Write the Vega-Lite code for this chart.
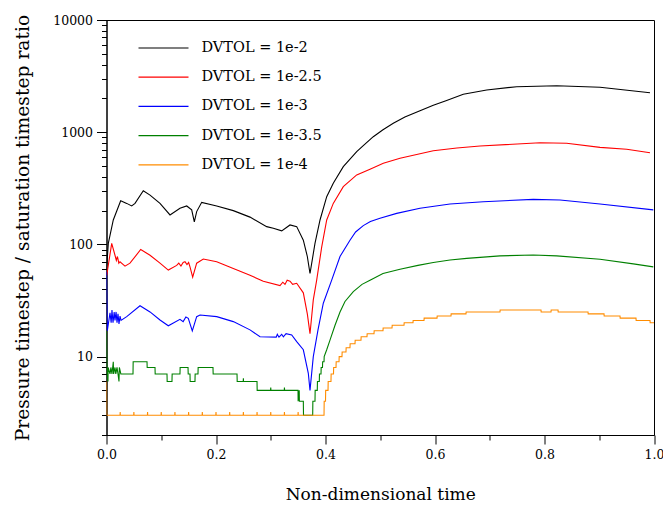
{
  "$schema": "https://vega.github.io/schema/vega-lite/v6.json",
  "width": 547.5,
  "height": 415,
  "autosize": "none",
  "padding": {"left": 106.5, "top": 20, "right": 9, "bottom": 72},
  "config": {
    "view": {"stroke": "#000", "strokeWidth": 1},
    "font": "DejaVu Serif",
    "axis": {"grid": false, "domainColor": "#000", "tickColor": "#000", "labelColor": "#000", "titleColor": "#000", "titleFontWeight": "normal", "labelFont": "DejaVu Serif", "titleFont": "DejaVu Serif"}
  },
  "data": {"values": [
    {"s":"1e-2","t":0,"v":59},{"s":"1e-2","t":0.0033,"v":102},{"s":"1e-2","t":0.0124,"v":165},{"s":"1e-2","t":0.0259,"v":245},{"s":"1e-2","t":0.0369,"v":232},{"s":"1e-2","t":0.046,"v":220},{"s":"1e-2","t":0.0521,"v":232},{"s":"1e-2","t":0.0672,"v":301},{"s":"1e-2","t":0.0795,"v":275},{"s":"1e-2","t":0.0977,"v":232},{"s":"1e-2","t":0.116,"v":183},{"s":"1e-2","t":0.1342,"v":210},{"s":"1e-2","t":0.1465,"v":220},{"s":"1e-2","t":0.1556,"v":203},{"s":"1e-2","t":0.1604,"v":159},{"s":"1e-2","t":0.1647,"v":196},{"s":"1e-2","t":0.1739,"v":237},{"s":"1e-2","t":0.2013,"v":220},{"s":"1e-2","t":0.2316,"v":200},{"s":"1e-2","t":0.2621,"v":175},{"s":"1e-2","t":0.2926,"v":144},{"s":"1e-2","t":0.3047,"v":139},{"s":"1e-2","t":0.32,"v":132},{"s":"1e-2","t":0.3352,"v":149},{"s":"1e-2","t":0.3474,"v":144},{"s":"1e-2","t":0.3595,"v":109},{"s":"1e-2","t":0.3668,"v":78},{"s":"1e-2","t":0.3717,"v":55},{"s":"1e-2","t":0.3808,"v":102},{"s":"1e-2","t":0.39,"v":165},{"s":"1e-2","t":0.4022,"v":266},{"s":"1e-2","t":0.4142,"v":351},{"s":"1e-2","t":0.4325,"v":493},{"s":"1e-2","t":0.457,"v":670},{"s":"1e-2","t":0.47,"v":766},{"s":"1e-2","t":0.4873,"v":912},{"s":"1e-2","t":0.505,"v":1052},{"s":"1e-2","t":0.5238,"v":1200},{"s":"1e-2","t":0.545,"v":1365},{"s":"1e-2","t":0.5726,"v":1555},{"s":"1e-2","t":0.5969,"v":1738},{"s":"1e-2","t":0.62,"v":1905},{"s":"1e-2","t":0.6517,"v":2177},{"s":"1e-2","t":0.6944,"v":2377},{"s":"1e-2","t":0.7492,"v":2545},{"s":"1e-2","t":0.8223,"v":2597},{"s":"1e-2","t":0.9014,"v":2512},{"s":"1e-2","t":0.9927,"v":2249},

    {"s":"1e-2.5","t":0.0004,"v":53},{"s":"1e-2.5","t":0.0095,"v":102},{"s":"1e-2.5","t":0.0155,"v":80},{"s":"1e-2.5","t":0.018,"v":72},{"s":"1e-2.5","t":0.02,"v":78},{"s":"1e-2.5","t":0.0225,"v":68},{"s":"1e-2.5","t":0.0247,"v":70},{"s":"1e-2.5","t":0.0338,"v":64},{"s":"1e-2.5","t":0.0429,"v":68},{"s":"1e-2.5","t":0.0625,"v":90},{"s":"1e-2.5","t":0.0795,"v":80},{"s":"1e-2.5","t":0.0977,"v":68},{"s":"1e-2.5","t":0.1129,"v":59},{"s":"1e-2.5","t":0.1282,"v":65},{"s":"1e-2.5","t":0.132,"v":68},{"s":"1e-2.5","t":0.136,"v":64},{"s":"1e-2.5","t":0.14,"v":69},{"s":"1e-2.5","t":0.1434,"v":70},{"s":"1e-2.5","t":0.147,"v":66},{"s":"1e-2.5","t":0.15,"v":69},{"s":"1e-2.5","t":0.1525,"v":63},{"s":"1e-2.5","t":0.1574,"v":51},{"s":"1e-2.5","t":0.1647,"v":68},{"s":"1e-2.5","t":0.1768,"v":74},{"s":"1e-2.5","t":0.2013,"v":70},{"s":"1e-2.5","t":0.2316,"v":61},{"s":"1e-2.5","t":0.2621,"v":53},{"s":"1e-2.5","t":0.2864,"v":47},{"s":"1e-2.5","t":0.3169,"v":43},{"s":"1e-2.5","t":0.322,"v":46},{"s":"1e-2.5","t":0.326,"v":44},{"s":"1e-2.5","t":0.33,"v":48},{"s":"1e-2.5","t":0.3352,"v":47},{"s":"1e-2.5","t":0.34,"v":44},{"s":"1e-2.5","t":0.3474,"v":45},{"s":"1e-2.5","t":0.3595,"v":37},{"s":"1e-2.5","t":0.3668,"v":24},{"s":"1e-2.5","t":0.3717,"v":16},{"s":"1e-2.5","t":0.3777,"v":32},{"s":"1e-2.5","t":0.3839,"v":48},{"s":"1e-2.5","t":0.3931,"v":95},{"s":"1e-2.5","t":0.4022,"v":165},{"s":"1e-2.5","t":0.4142,"v":232},{"s":"1e-2.5","t":0.4325,"v":327},{"s":"1e-2.5","t":0.457,"v":416},{"s":"1e-2.5","t":0.4813,"v":467},{"s":"1e-2.5","t":0.5056,"v":528},{"s":"1e-2.5","t":0.5361,"v":585},{"s":"1e-2.5","t":0.5969,"v":684},{"s":"1e-2.5","t":0.64,"v":724},{"s":"1e-2.5","t":0.6822,"v":753},{"s":"1e-2.5","t":0.7918,"v":806},{"s":"1e-2.5","t":0.8405,"v":796},{"s":"1e-2.5","t":0.9014,"v":733},{"s":"1e-2.5","t":0.9501,"v":704},{"s":"1e-2.5","t":0.9927,"v":656},

    {"s":"1e-3","t":0,"v":57},{"s":"1e-3","t":0.0015,"v":17},{"s":"1e-3","t":0.0064,"v":24.5},{"s":"1e-3","t":0.0085,"v":20},{"s":"1e-3","t":0.01,"v":26},{"s":"1e-3","t":0.0119,"v":20},{"s":"1e-3","t":0.014,"v":25},{"s":"1e-3","t":0.0155,"v":21},{"s":"1e-3","t":0.0175,"v":25},{"s":"1e-3","t":0.0192,"v":20},{"s":"1e-3","t":0.021,"v":24},{"s":"1e-3","t":0.0228,"v":19.5},{"s":"1e-3","t":0.0247,"v":23},{"s":"1e-3","t":0.0265,"v":21},{"s":"1e-3","t":0.0369,"v":22.7},{"s":"1e-3","t":0.0612,"v":28.4},{"s":"1e-3","t":0.0795,"v":25},{"s":"1e-3","t":0.0977,"v":21.2},{"s":"1e-3","t":0.1129,"v":18.8},{"s":"1e-3","t":0.1342,"v":21.5},{"s":"1e-3","t":0.14,"v":20.5},{"s":"1e-3","t":0.145,"v":22.5},{"s":"1e-3","t":0.1494,"v":21.9},{"s":"1e-3","t":0.1567,"v":16.9},{"s":"1e-3","t":0.1647,"v":22.7},{"s":"1e-3","t":0.1708,"v":23.5},{"s":"1e-3","t":0.2013,"v":22.7},{"s":"1e-3","t":0.2316,"v":20.5},{"s":"1e-3","t":0.2621,"v":17.3},{"s":"1e-3","t":0.2804,"v":15},{"s":"1e-3","t":0.31,"v":14.9},{"s":"1e-3","t":0.312,"v":15.8},{"s":"1e-3","t":0.315,"v":14.9},{"s":"1e-3","t":0.32,"v":15.8},{"s":"1e-3","t":0.323,"v":15},{"s":"1e-3","t":0.328,"v":16},{"s":"1e-3","t":0.3383,"v":15.6},{"s":"1e-3","t":0.3474,"v":13.6},{"s":"1e-3","t":0.3595,"v":11.5},{"s":"1e-3","t":0.3686,"v":7.1},{"s":"1e-3","t":0.3717,"v":5},{"s":"1e-3","t":0.3777,"v":10},{"s":"1e-3","t":0.3863,"v":17.3},{"s":"1e-3","t":0.396,"v":29.9},{"s":"1e-3","t":0.4113,"v":48},{"s":"1e-3","t":0.4265,"v":78},{"s":"1e-3","t":0.4447,"v":109},{"s":"1e-3","t":0.455,"v":129},{"s":"1e-3","t":0.469,"v":147},{"s":"1e-3","t":0.482,"v":160},{"s":"1e-3","t":0.4995,"v":171},{"s":"1e-3","t":0.53,"v":189},{"s":"1e-3","t":0.5726,"v":210},{"s":"1e-3","t":0.6274,"v":229},{"s":"1e-3","t":0.6882,"v":240},{"s":"1e-3","t":0.7795,"v":252},{"s":"1e-3","t":0.8283,"v":249},{"s":"1e-3","t":0.9014,"v":229},{"s":"1e-3","t":0.9987,"v":203},

    {"s":"1e-3.5","t":0,"v":17},{"s":"1e-3.5","t":0.0009,"v":7},{"s":"1e-3.5","t":0.0027,"v":6},{"s":"1e-3.5","t":0.003,"v":8},{"s":"1e-3.5","t":0.0064,"v":7},{"s":"1e-3.5","t":0.008,"v":8},{"s":"1e-3.5","t":0.01,"v":7},{"s":"1e-3.5","t":0.0124,"v":9},{"s":"1e-3.5","t":0.013,"v":7},{"s":"1e-3.5","t":0.0155,"v":8},{"s":"1e-3.5","t":0.017,"v":7},{"s":"1e-3.5","t":0.0192,"v":8},{"s":"1e-3.5","t":0.021,"v":7},{"s":"1e-3.5","t":0.0228,"v":6},{"s":"1e-3.5","t":0.0235,"v":8},{"s":"1e-3.5","t":0.0262,"v":7},
    {"s":"1e-3.5","t":0.0484,"v":7},{"s":"1e-3.5","t":0.0487,"v":9},{"s":"1e-3.5","t":0.074,"v":9},{"s":"1e-3.5","t":0.0743,"v":8},{"s":"1e-3.5","t":0.0886,"v":8},{"s":"1e-3.5","t":0.0889,"v":7},{"s":"1e-3.5","t":0.1105,"v":7},{"s":"1e-3.5","t":0.1108,"v":6},{"s":"1e-3.5","t":0.1196,"v":6},{"s":"1e-3.5","t":0.1199,"v":7},{"s":"1e-3.5","t":0.1342,"v":7},{"s":"1e-3.5","t":0.1345,"v":8},{"s":"1e-3.5","t":0.1489,"v":8},{"s":"1e-3.5","t":0.1492,"v":7},{"s":"1e-3.5","t":0.1525,"v":7},{"s":"1e-3.5","t":0.1528,"v":6},{"s":"1e-3.5","t":0.1616,"v":6},{"s":"1e-3.5","t":0.1619,"v":7},{"s":"1e-3.5","t":0.1671,"v":7},{"s":"1e-3.5","t":0.1674,"v":8},{"s":"1e-3.5","t":0.1945,"v":8},{"s":"1e-3.5","t":0.1948,"v":7},{"s":"1e-3.5","t":0.2384,"v":7},{"s":"1e-3.5","t":0.2387,"v":6},{"s":"1e-3.5","t":0.2497,"v":6},{"s":"1e-3.5","t":0.25,"v":6.4},{"s":"1e-3.5","t":0.2503,"v":6},{"s":"1e-3.5","t":0.2749,"v":6},{"s":"1e-3.5","t":0.2752,"v":5},{"s":"1e-3.5","t":0.2997,"v":5},{"s":"1e-3.5","t":0.3,"v":5.3},{"s":"1e-3.5","t":0.3003,"v":5},{"s":"1e-3.5","t":0.3247,"v":5},{"s":"1e-3.5","t":0.325,"v":5.3},{"s":"1e-3.5","t":0.3253,"v":5},
    {"s":"1e-3.5","t":0.3498,"v":5},{"s":"1e-3.5","t":0.35,"v":4},{"s":"1e-3.5","t":0.352,"v":5},{"s":"1e-3.5","t":0.3523,"v":4},{"s":"1e-3.5","t":0.3595,"v":4},{"s":"1e-3.5","t":0.3598,"v":3},{"s":"1e-3.5","t":0.3766,"v":3},{"s":"1e-3.5","t":0.3769,"v":4},{"s":"1e-3.5","t":0.3808,"v":4},{"s":"1e-3.5","t":0.3811,"v":5},{"s":"1e-3.5","t":0.385,"v":5},{"s":"1e-3.5","t":0.3853,"v":6},{"s":"1e-3.5","t":0.3887,"v":6},{"s":"1e-3.5","t":0.389,"v":7},{"s":"1e-3.5","t":0.3918,"v":7},{"s":"1e-3.5","t":0.3921,"v":8},{"s":"1e-3.5","t":0.3945,"v":8},{"s":"1e-3.5","t":0.3948,"v":9},{"s":"1e-3.5","t":0.3973,"v":9},{"s":"1e-3.5","t":0.3976,"v":10},{"s":"1e-3.5","t":0.4022,"v":11.5},{"s":"1e-3.5","t":0.4082,"v":14},{"s":"1e-3.5","t":0.4174,"v":19},{"s":"1e-3.5","t":0.4265,"v":25},{"s":"1e-3.5","t":0.4356,"v":31},{"s":"1e-3.5","t":0.4508,"v":38},{"s":"1e-3.5","t":0.4667,"v":44},{"s":"1e-3.5","t":0.4813,"v":48},{"s":"1e-3.5","t":0.505,"v":55},{"s":"1e-3.5","t":0.5361,"v":60},{"s":"1e-3.5","t":0.5689,"v":65},{"s":"1e-3.5","t":0.5969,"v":69},{"s":"1e-3.5","t":0.6274,"v":72.6},{"s":"1e-3.5","t":0.6579,"v":75},{"s":"1e-3.5","t":0.7187,"v":79},{"s":"1e-3.5","t":0.7795,"v":80.5},{"s":"1e-3.5","t":0.8223,"v":79},{"s":"1e-3.5","t":0.9014,"v":73.6},{"s":"1e-3.5","t":0.9622,"v":67},{"s":"1e-3.5","t":0.9987,"v":63},

    {"s":"1e-4","t":0,"v":6},{"s":"1e-4","t":0.0005,"v":3},
    {"s":"1e-4","t":0.0247,"v":3},{"s":"1e-4","t":0.025,"v":3.2},{"s":"1e-4","t":0.0253,"v":3},
    {"s":"1e-4","t":0.0497,"v":3},{"s":"1e-4","t":0.05,"v":3.2},{"s":"1e-4","t":0.0503,"v":3},
    {"s":"1e-4","t":0.0747,"v":3},{"s":"1e-4","t":0.075,"v":3.2},{"s":"1e-4","t":0.0753,"v":3},
    {"s":"1e-4","t":0.0997,"v":3},{"s":"1e-4","t":0.1,"v":3.2},{"s":"1e-4","t":0.1003,"v":3},
    {"s":"1e-4","t":0.1247,"v":3},{"s":"1e-4","t":0.125,"v":3.2},{"s":"1e-4","t":0.1253,"v":3},
    {"s":"1e-4","t":0.1497,"v":3},{"s":"1e-4","t":0.15,"v":3.2},{"s":"1e-4","t":0.1503,"v":3},
    {"s":"1e-4","t":0.1747,"v":3},{"s":"1e-4","t":0.175,"v":3.2},{"s":"1e-4","t":0.1753,"v":3},
    {"s":"1e-4","t":0.1997,"v":3},{"s":"1e-4","t":0.2,"v":3.2},{"s":"1e-4","t":0.2003,"v":3},
    {"s":"1e-4","t":0.2247,"v":3},{"s":"1e-4","t":0.225,"v":3.2},{"s":"1e-4","t":0.2253,"v":3},
    {"s":"1e-4","t":0.2497,"v":3},{"s":"1e-4","t":0.25,"v":3.2},{"s":"1e-4","t":0.2503,"v":3},
    {"s":"1e-4","t":0.2747,"v":3},{"s":"1e-4","t":0.275,"v":3.2},{"s":"1e-4","t":0.2753,"v":3},
    {"s":"1e-4","t":0.2997,"v":3},{"s":"1e-4","t":0.3,"v":3.2},{"s":"1e-4","t":0.3003,"v":3},
    {"s":"1e-4","t":0.3247,"v":3},{"s":"1e-4","t":0.325,"v":3.2},{"s":"1e-4","t":0.3253,"v":3},
    {"s":"1e-4","t":0.3497,"v":3},{"s":"1e-4","t":0.35,"v":3.2},{"s":"1e-4","t":0.3503,"v":3},
    {"s":"1e-4","t":0.3973,"v":3},{"s":"1e-4","t":0.3976,"v":4},{"s":"1e-4","t":0.4,"v":4},{"s":"1e-4","t":0.4003,"v":5},{"s":"1e-4","t":0.4046,"v":5},{"s":"1e-4","t":0.4049,"v":6},{"s":"1e-4","t":0.41,"v":6},{"s":"1e-4","t":0.4103,"v":7},{"s":"1e-4","t":0.4146,"v":7},{"s":"1e-4","t":0.4149,"v":8},{"s":"1e-4","t":0.4192,"v":8},{"s":"1e-4","t":0.4195,"v":9},{"s":"1e-4","t":0.4247,"v":9},{"s":"1e-4","t":0.425,"v":10},{"s":"1e-4","t":0.4301,"v":10},{"s":"1e-4","t":0.4304,"v":11},{"s":"1e-4","t":0.4374,"v":11},{"s":"1e-4","t":0.4377,"v":12},{"s":"1e-4","t":0.4447,"v":12},{"s":"1e-4","t":0.445,"v":13},{"s":"1e-4","t":0.4539,"v":13},{"s":"1e-4","t":0.4542,"v":14},{"s":"1e-4","t":0.4648,"v":14},{"s":"1e-4","t":0.4651,"v":15},{"s":"1e-4","t":0.4758,"v":15},{"s":"1e-4","t":0.4761,"v":16},{"s":"1e-4","t":0.4886,"v":16},{"s":"1e-4","t":0.4889,"v":17},{"s":"1e-4","t":0.505,"v":17},{"s":"1e-4","t":0.5053,"v":18},{"s":"1e-4","t":0.5215,"v":18},{"s":"1e-4","t":0.5218,"v":19},{"s":"1e-4","t":0.5434,"v":19},{"s":"1e-4","t":0.5437,"v":20},{"s":"1e-4","t":0.5598,"v":20},{"s":"1e-4","t":0.5601,"v":21},{"s":"1e-4","t":0.5799,"v":21},{"s":"1e-4","t":0.5802,"v":22},{"s":"1e-4","t":0.6037,"v":22},{"s":"1e-4","t":0.604,"v":23},{"s":"1e-4","t":0.6292,"v":23},{"s":"1e-4","t":0.6295,"v":24},{"s":"1e-4","t":0.6566,"v":24},{"s":"1e-4","t":0.6569,"v":25},{"s":"1e-4","t":0.7187,"v":25},{"s":"1e-4","t":0.719,"v":26},{"s":"1e-4","t":0.7936,"v":26},{"s":"1e-4","t":0.7939,"v":25},{"s":"1e-4","t":0.8119,"v":25},{"s":"1e-4","t":0.8122,"v":26},{"s":"1e-4","t":0.8247,"v":26},{"s":"1e-4","t":0.825,"v":25},{"s":"1e-4","t":0.8795,"v":25},{"s":"1e-4","t":0.8798,"v":24},{"s":"1e-4","t":0.9087,"v":24},{"s":"1e-4","t":0.909,"v":23},{"s":"1e-4","t":0.9379,"v":23},{"s":"1e-4","t":0.9382,"v":22},{"s":"1e-4","t":0.9671,"v":22},{"s":"1e-4","t":0.9674,"v":21},{"s":"1e-4","t":0.9927,"v":21},{"s":"1e-4","t":0.993,"v":20},{"s":"1e-4","t":1,"v":20}
  ]},
  "mark": {"type": "line", "strokeWidth": 1.1, "clip": true},
  "encoding": {
    "x": {
      "field": "t", "type": "quantitative",
      "scale": {"domain": [0, 1], "nice": false, "zero": false},
      "axis": {
        "title": "Non-dimensional time",
        "values": [0, 0.1, 0.2, 0.3, 0.4, 0.5, 0.6, 0.7, 0.8, 0.9, 1],
        "labelExpr": "round(datum.value*10) % 2 == 0 ? format(datum.value, '.1f') : ''",
        "tickSize": {"condition": {"test": "round(datum.value*10) % 2 == 0", "value": 9}, "value": 5},
        "labelFontSize": 12.5, "titleFontSize": 17, "labelPadding": 4, "titlePadding": 26,
        "labelFlush": false, "labelOverlap": false
      }
    },
    "y": {
      "field": "v", "type": "quantitative",
      "scale": {"type": "log", "domain": [2, 10000], "nice": false},
      "axis": {
        "title": "Pressure timestep / saturation timestep ratio",
        "values": [2,3,4,5,6,7,8,9,10,20,30,40,50,60,70,80,90,100,200,300,400,500,600,700,800,900,1000,2000,3000,4000,5000,6000,7000,8000,9000,10000],
        "labelExpr": "(datum.value == 10 || datum.value == 100 || datum.value == 1000 || datum.value == 10000) ? '' + datum.value : ''",
        "tickSize": {"condition": {"test": "datum.value == 10 || datum.value == 100 || datum.value == 1000 || datum.value == 10000", "value": 10}, "value": 5},
        "labelFontSize": 12.5, "titleFontSize": 18.7, "labelPadding": 4, "titlePadding": 20,
        "labelOverlap": false, "labelFlush": false
      }
    },
    "color": {
      "field": "s", "type": "nominal",
      "scale": {"domain": ["1e-2", "1e-2.5", "1e-3", "1e-3.5", "1e-4"], "range": ["#000000", "#ff0000", "#0000ff", "#008000", "#ff8c00"]},
      "legend": {
        "title": null, "orient": "none", "legendX": 31, "legendY": 21, "padding": 0,
        "symbolType": "stroke", "symbolSize": 2500, "symbolStrokeWidth": 1.2,
        "labelExpr": "'DVTOL = ' + datum.label",
        "labelFontSize": 14.5, "labelFont": "DejaVu Serif", "labelColor": "#000", "labelOffset": 12,
        "clipHeight": 14, "rowPadding": 14.2
      }
    }
  }
}
